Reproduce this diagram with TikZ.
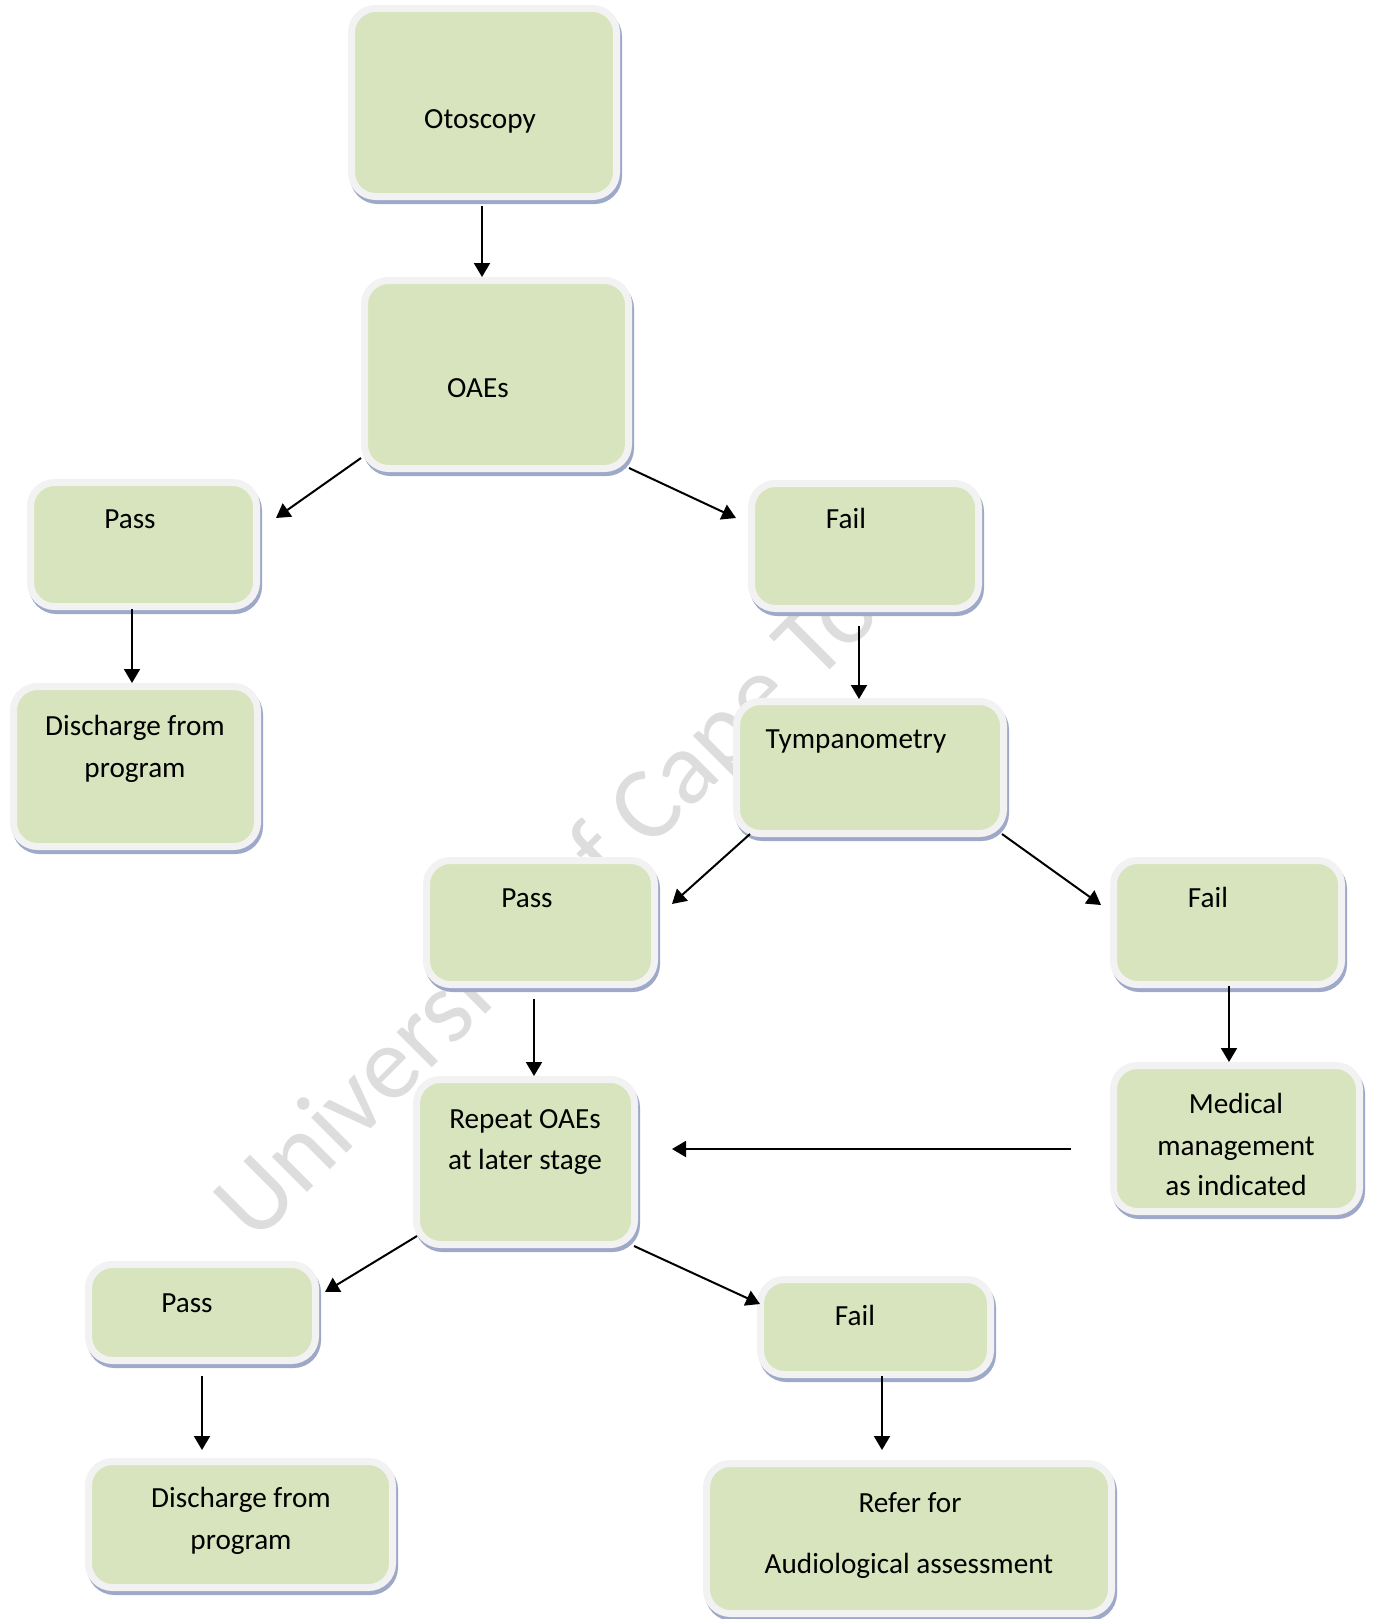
\documentclass[tikz,border=0pt]{standalone}
\usepackage{fontspec}
\setmainfont{Carlito}
\usetikzlibrary{fit,arrows.meta}
\definecolor{boxgreen}{RGB}{215,228,189}
\definecolor{boxrim}{RGB}{242,242,242}
\definecolor{boxshade}{RGB}{158,168,200}
\definecolor{markgray}{RGB}{221,221,221}
% a flowchart box given by its outer corners (x1,y1) (x2,y2)
\newcommand\flowbox[5]{\node[stepbox, fit={(#2,#3)(#4,#5)}] (#1) {};}
\begin{document}
\begin{tikzpicture}[x=0.5pt,y=-0.5pt,
  stepbox/.style={rounded corners=12pt, fill=boxgreen, draw=boxrim, line width=3.5pt,
    inner sep=-1.75pt, outer sep=0pt,
    preaction={draw=boxshade, fill=boxshade, line width=3.5pt,
      transform canvas={shift={(1pt,-2pt)}}}},
  boxtext/.style={font=\fontsize{14.6pt}{17pt}\selectfont, anchor=base, inner sep=0pt},
  link/.style={line width=1pt, -{Triangle[length=7pt,width=8pt]}},
]
\useasboundingbox[fill=white] (0,0) rectangle (1375,1619);

% watermark behind everything
\node[font=\fontsize{52pt}{60pt}\selectfont, text=markgray, rotate=45,
  anchor=base west, inner sep=0pt] (mark) at (255,1245) {University of Cape Town};

% boxes
\flowbox{oto}{348}{5}{620}{200}
\flowbox{oae}{361}{277}{632}{472}
\flowbox{passA}{27}{479}{260}{610}
\flowbox{failA}{748}{480}{982}{612}
\flowbox{disA}{10}{683}{261}{850}
\flowbox{tymp}{733}{698}{1007}{837}
\flowbox{passB}{423}{857}{658}{988}
\flowbox{failB}{1110}{857}{1345}{988}
\flowbox{rep}{413}{1076}{638}{1248}
\flowbox{med}{1110}{1062}{1363}{1215}
\flowbox{passC}{85}{1261}{319}{1364}
\flowbox{failC}{757}{1276}{994}{1378}
\flowbox{disC}{85}{1458}{396}{1591}
\flowbox{ref}{703}{1460}{1115}{1617}

% box texts
\node[boxtext] (tOto) at (480,128) {Otoscopy};
\node[boxtext] (tOae) at (478,397) {OAEs};
\node[boxtext] (tPassA) at (130,528) {Pass};
\node[boxtext] (tFailA) at (846,528) {Fail};
\node[boxtext] (tDisA1) at (135,735) {Discharge from};
\node[boxtext] (tDisA2) at (135,777) {program};
\node[boxtext] (tTymp) at (856,748) {Tympanometry};
\node[boxtext] (tPassB) at (527,907) {Pass};
\node[boxtext] (tFailB) at (1208,907) {Fail};
\node[boxtext] (tRep1) at (525,1128) {Repeat OAEs};
\node[boxtext] (tRep2) at (525,1169) {at later stage};
\node[boxtext] (tMed1) at (1236,1113) {Medical};
\node[boxtext] (tMed2) at (1236,1155) {management};
\node[boxtext] (tMed3) at (1236,1195) {as indicated};
\node[boxtext] (tPassC) at (187,1312) {Pass};
\node[boxtext] (tFailC) at (855,1325) {Fail};
\node[boxtext] (tDisC1) at (241,1507) {Discharge from};
\node[boxtext] (tDisC2) at (241,1549) {program};
\node[boxtext] (tRef1) at (910,1512) {Refer for};
\node[boxtext] (tRef2) at (909,1573) {Audiological assessment};

% connectors
\draw[link] ([shift={(-2,9.5)}]oto.south) -- ([shift={(-14.5,-3.5)}]oae.north);
\draw[link] ([shift={(-3.5,-10.5)}]oae.south west) -- ([shift={(19.5,35.5)}]passA.north east);
\draw[link] ([shift={(0.5,-0.5)}]oae.south east) -- ([shift={(-15.5,34.5)}]failA.north west);
\draw[link] ([shift={(-11.5,2.5)}]passA.south) -- ([shift={(-3.5,-3.5)}]disA.north);
\draw[link] ([shift={(-6,17.5)}]failA.south) -- ([shift={(-11,-2.5)}]tymp.north);
\draw[link] ([shift={(13.5,0.5)}]tymp.south west) -- ([shift={(17.5,43.5)}]passB.north east);
\draw[link] ([shift={(-1.5,0.5)}]tymp.south east) -- ([shift={(-12.5,44.5)}]failB.north west);
\draw[link] ([shift={(-6.5,14.5)}]passB.south) -- ([shift={(8.5,-3.5)}]rep.north);
\draw[link] ([shift={(1.5,1.5)}]failB.south) -- ([shift={(-7.5,-3.5)}]med.north);
\draw[link] ([shift={(-42.5,10.5)}]med.west) -- ([shift={(37.5,-13)}]rep.east);
\draw[link] ([shift={(0.5,-8.5)}]rep.south west) -- ([shift={(9.5,27.5)}]passC.north east);
\draw[link] ([shift={(-0.5,1.5)}]rep.south east) -- ([shift={(-0.5,24.5)}]failC.north west);
\draw[link] ([shift={(0,15.5)}]passC.south) -- ([shift={(-38.5,-11.5)}]disC.north);
\draw[link] ([shift={(6.5,1.5)}]failC.south) -- ([shift={(-27,-13.5)}]ref.north);
\end{tikzpicture}
\end{document}
